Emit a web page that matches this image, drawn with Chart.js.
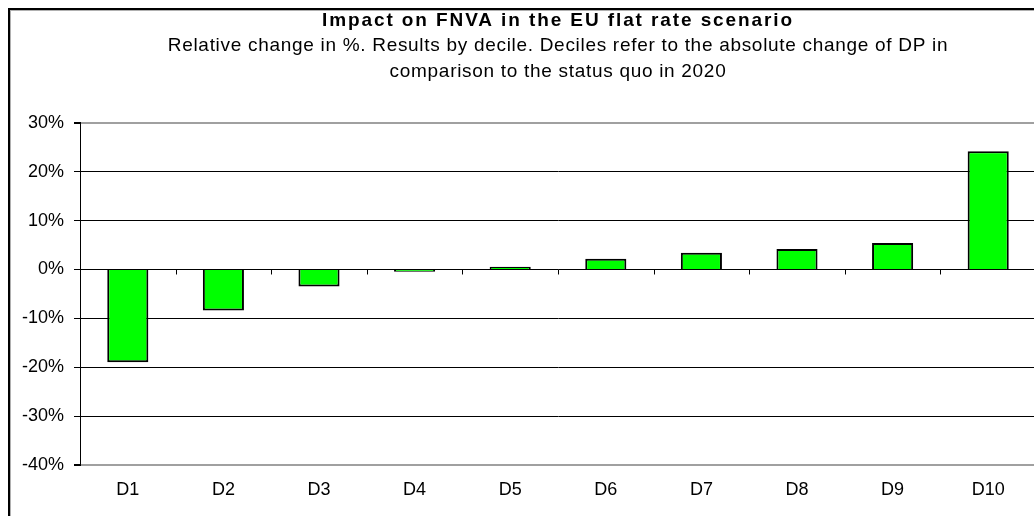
<!DOCTYPE html>
<html>
<head>
<meta charset="utf-8">
<script src="https://cdn.jsdelivr.net/npm/chart.js@4.4.0/dist/chart.umd.min.js"></script>
<style>
  html, body { margin: 0; padding: 0; background: #fff; overflow: hidden; width: 1034px; height: 516px; }
  #frame { position: absolute; left: 8px; top: 8px; width: 1200px; height: 800px;
           border-left: 2px solid #000; border-top: 2px solid #000;
           box-shadow: inset 1px 1px 0 #b0b0b0; }
  #wrap { position: absolute; left: 0; top: 0; width: 1040px; height: 516px; }
</style>
</head>
<body>
<div id="frame"></div>
<div id="wrap"><canvas id="c"></canvas></div>
<script>
const categories = ['D1', 'D2', 'D3', 'D4', 'D5', 'D6', 'D7', 'D8', 'D9', 'D10'];
const relativeChange = [-19.0, -8.4, -3.5, -0.45, 0.55, 2.2, 3.4, 4.2, 5.4, 24.2];
const yMin = -40, yMax = 30, yStep = 10;
const titleText = 'Impact on FNVA in the EU flat rate scenario';
const subtitleLines = [
  'Relative change in %. Results by decile. Deciles refer to the absolute change of DP in',
  'comparison to the status quo in 2020'
];

const FONT = '"Liberation Sans", Arial, sans-serif';

// Letter spacing for title / subtitle boxes (the reference text is spaced out)
const spacedTitles = {
  id: 'spacedTitles',
  afterLayout(chart) {
    for (const b of chart.boxes) {
      if (b._spaced || !b.options || !('text' in b.options)) continue;
      const orig = b.draw;
      const sp = Array.isArray(b.options.text) ? '0.7px' : '1.9px';
      b.draw = function (...args) {
        const ctx = this.ctx;
        ctx.save();
        ctx.letterSpacing = sp;
        orig.apply(this, args);
        ctx.restore();
      };
      b._spaced = true;
    }
  }
};

const zeroTicks = {
  id: 'zeroTicks',
  afterDatasetsDraw(chart) {
    const x = chart.scales.x, y = chart.scales.y;
    const ctx = chart.ctx;
    const y0 = y.getPixelForValue(0);
    ctx.save();
    ctx.strokeStyle = '#000';
    ctx.lineWidth = 1;
    ctx.beginPath();
    for (let i = 1; i < categories.length; i++) {
      const bx = Math.round((x.getPixelForValue(i - 1) + x.getPixelForValue(i)) / 2) + 0.5;
      ctx.moveTo(bx, y0);
      ctx.lineTo(bx, y0 + 5);
    }
    ctx.stroke();
    ctx.restore();
  }
};

new Chart(document.getElementById('c'), {
  type: 'bar',
  data: {
    labels: categories,
    datasets: [{
      data: relativeChange,
      backgroundColor: '#00ff00',
      borderColor: '#000',
      borderWidth: 2,
      barPercentage: 0.43,
      categoryPercentage: 1
    }]
  },
  options: {
    responsive: true,
    maintainAspectRatio: false,
    animation: false,
    layout: { padding: { left: 22, right: 4, top: 0, bottom: 15 } },
    plugins: {
      legend: { display: false },
      tooltip: { enabled: false },
      title: {
        display: true,
        text: titleText,
        fullSize: false,
        color: '#000',
        font: { family: FONT, size: 19, weight: 'bold', lineHeight: 1.2 },
        padding: { top: 9, bottom: 0 }
      },
      subtitle: {
        display: true,
        text: subtitleLines,
        fullSize: false,
        color: '#000',
        font: { family: FONT, size: 19, weight: 'normal', lineHeight: 1.37 },
        padding: { top: 1, bottom: 38 }
      }
    },
    scales: {
      x: {
        grid: { display: false, drawTicks: false },
        border: { display: false },
        ticks: { color: '#000', font: { family: FONT, size: 18 }, padding: 14, maxRotation: 0 },
        afterFit(s) { s.height = 36; }
      },
      y: {
        min: yMin,
        max: yMax,
        ticks: {
          stepSize: yStep,
          color: '#000',
          font: { family: FONT, size: 18 },
          padding: 10,
          callback: v => v + '%'
        },
        grid: {
          color: ctx => (ctx.tick && (ctx.tick.value === yMax || ctx.tick.value === yMin)) ? '#a0a0a0' : '#000',
          lineWidth: ctx => (ctx.tick && (ctx.tick.value === yMax || ctx.tick.value === yMin)) ? 2 : 1,
          tickLength: 6,
          tickColor: '#000',
          drawTicks: true
        },
        border: { display: true, color: '#000', width: 1 },
        afterFit(s) { s.width = 58; }
      }
    }
  },
  plugins: [spacedTitles, zeroTicks]
});
</script>
</body>
</html>
